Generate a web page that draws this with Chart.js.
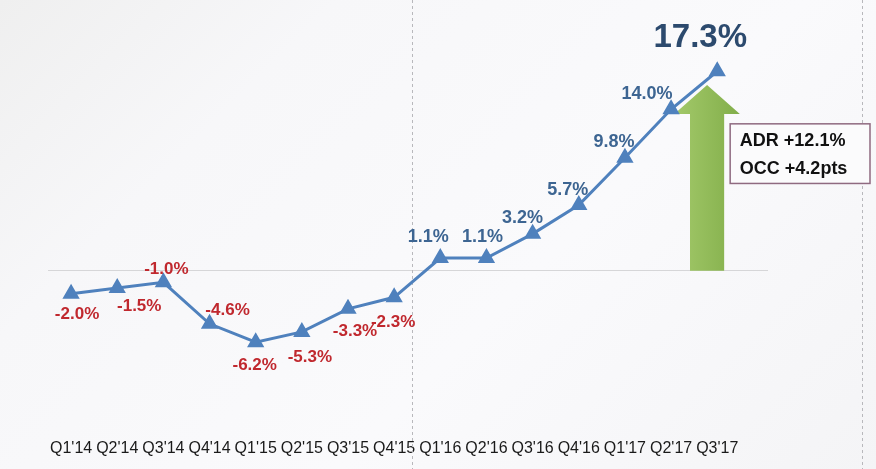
<!DOCTYPE html>
<html>
<head>
<meta charset="utf-8">
<script src="https://cdn.jsdelivr.net/npm/chart.js@4"></script>
<style>
  html, body { margin: 0; padding: 0; }
  body {
    width: 876px; height: 469px; overflow: hidden;
    background: linear-gradient(135deg, #efefef 0%, #f7f7f9 25%, #fafafc 60%, #f4f4f6 100%);
  }
  canvas { display: block; }
</style>
</head>
<body>
<canvas id="revparChart" width="876" height="469"></canvas>
<script>
// quarters on the x axis
const quarters = ["Q1'14", "Q2'14", "Q3'14", "Q4'14", "Q1'15", "Q2'15", "Q3'15", "Q4'15",
  "Q1'16", "Q2'16", "Q3'16", "Q4'16", "Q1'17", "Q2'17", "Q3'17"];

// growth in percent
const growth = [-2.0, -1.5, -1.0, -4.6, -6.2, -5.3, -3.3, -2.3, 1.1, 1.1, 3.2, 5.7, 9.8, 14.0, 17.3];

// callout text
const calloutLines = ["ADR +12.1%", "OCC +4.2pts"];

// where each value label sits relative to its point (px)
const labelOffsets = [
  [6, 20], [22, 18], [3, -13], [18, -14], [-1, 23], [8, 25], [7, 22], [-1, 25],
  [-12, -21], [-4, -21], [-10, -16], [-11, -15], [-11, -16], [-24, -15], [-17, -33]
];

const lineBlue = "#4f81bd";
const fontFamily = "'Liberation Sans', Arial, sans-serif";

const decorPlugin = {
  id: "decor",
  beforeDatasetsDraw(chart) {
    const { ctx, scales: { x, y } } = chart;
    ctx.save();

    // dashed guide lines
    ctx.strokeStyle = "#b8b8bc";
    ctx.lineWidth = 1;
    ctx.setLineDash([3, 3]);
    [7.39, 17.14].forEach(v => {
      const px = Math.round(x.getPixelForValue(v)) + 0.5;
      ctx.beginPath();
      ctx.moveTo(px, 0);
      ctx.lineTo(px, chart.height);
      ctx.stroke();
    });
    ctx.setLineDash([]);

    // green arrow
    const cx = x.getPixelForValue(13.78);
    const shaftHalf = x.getPixelForValue(0.37) - x.getPixelForValue(0);
    const headHalf = x.getPixelForValue(0.71) - x.getPixelForValue(0);
    const tip = y.getPixelForValue(16.1);
    const headBase = y.getPixelForValue(13.6);
    const base = y.getPixelForValue(0);
    const grad = ctx.createLinearGradient(cx - headHalf, 0, cx + headHalf, 0);
    grad.addColorStop(0, "#a3c96a");
    grad.addColorStop(1, "#82ae4a");
    ctx.fillStyle = grad;
    ctx.beginPath();
    ctx.moveTo(cx, tip);
    ctx.lineTo(cx + headHalf, headBase);
    ctx.lineTo(cx + shaftHalf, headBase);
    ctx.lineTo(cx + shaftHalf, base);
    ctx.lineTo(cx - shaftHalf, base);
    ctx.lineTo(cx - shaftHalf, headBase);
    ctx.lineTo(cx - headHalf, headBase);
    ctx.closePath();
    ctx.fill();

    // callout box
    const bx0 = x.getPixelForValue(14.28), bx1 = x.getPixelForValue(17.31);
    const by0 = y.getPixelForValue(12.74), by1 = y.getPixelForValue(7.57);
    ctx.fillStyle = "#fbfbfc";
    ctx.fillRect(bx0, by0, bx1 - bx0, by1 - by0);
    ctx.strokeStyle = "#8f6a80";
    ctx.lineWidth = 1.5;
    ctx.strokeRect(bx0, by0, bx1 - bx0, by1 - by0);
    ctx.fillStyle = "#111";
    ctx.font = "bold 18px " + fontFamily;
    ctx.textAlign = "left";
    ctx.textBaseline = "middle";
    ctx.fillText(calloutLines[0], x.getPixelForValue(14.49), y.getPixelForValue(11.28));
    ctx.fillText(calloutLines[1], x.getPixelForValue(14.49), y.getPixelForValue(8.78));

    ctx.restore();
  },
  afterDatasetsDraw(chart) {
    const { ctx } = chart;
    const meta = chart.getDatasetMeta(0);
    ctx.save();
    ctx.textAlign = "center";
    ctx.textBaseline = "middle";
    meta.data.forEach((pt, i) => {
      const v = growth[i];
      const last = i === growth.length - 1;
      if (last) {
        ctx.font = "bold 33px " + fontFamily;
        ctx.fillStyle = "#2c4a6e";
      } else if (v < 0) {
        ctx.font = "bold 17px " + fontFamily;
        ctx.fillStyle = "#c0282e";
      } else {
        ctx.font = "bold 18px " + fontFamily;
        ctx.fillStyle = "#3d6592";
      }
      const [dx, dy] = labelOffsets[i];
      ctx.fillText(v.toFixed(1) + "%", pt.x + dx, pt.y + dy);
    });
    ctx.restore();
  }
};

const canvas = document.getElementById("revparChart");

const chart = new Chart(canvas, {
  type: "line",
  data: {
    datasets: [
      {
        label: "RevPAR growth",
        data: growth.map((v, i) => ({ x: i, y: v })),
        borderColor: lineBlue,
        backgroundColor: lineBlue,
        borderWidth: 3,
        pointStyle: "triangle",
        pointRadius: 7,
        pointBackgroundColor: lineBlue,
        pointBorderColor: lineBlue,
        tension: 0,
      },
    ],
  },
  options: {
    responsive: false,
    maintainAspectRatio: false,
    animation: false,
    layout: {
      padding: { left: 48, right: 108, top: 0, bottom: 8 },
    },
    scales: {
      x: {
        type: "linear",
        min: -0.5,
        max: 15.1,
        afterBuildTicks: (s) => {
          s.ticks = quarters.map((_, i) => ({ value: i }));
        },
        grid: { display: false, drawTicks: false },
        border: { display: false },
        ticks: {
          autoSkip: false,
          maxRotation: 0,
          padding: 3,
          color: "#1a1a1a",
          font: { family: fontFamily, size: 16 },
          callback: (v) => quarters[v] ?? "",
        },
      },
      y: {
        min: -14.31,
        max: 22.61,
        afterBuildTicks: (s) => {
          s.ticks = [{ value: 0 }];
        },
        grid: { color: "#d6d6d8", lineWidth: 1, drawTicks: false },
        border: { display: false },
        ticks: { display: false },
      },
    },
    plugins: {
      legend: { display: false },
      tooltip: { enabled: false },
    },
  },
  plugins: [decorPlugin],
});
</script>
</body>
</html>
